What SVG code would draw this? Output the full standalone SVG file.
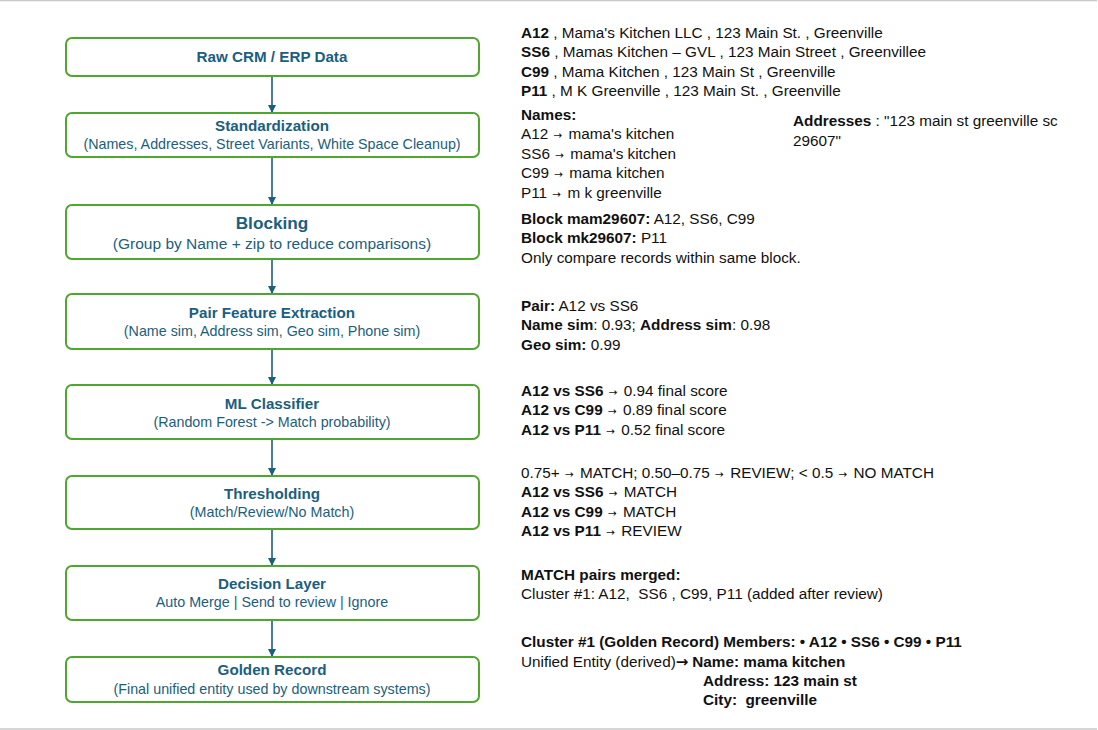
<svg xmlns="http://www.w3.org/2000/svg" width="1098" height="730" viewBox="0 0 1098 730">
<style>
.box{fill:#fff;stroke:#4EA72E;stroke-width:2}
.t{font-family:"Liberation Sans",Arial,sans-serif;fill:#1B5E80;text-anchor:middle}
.h{font-weight:bold;font-size:15.2px}
.s{font-size:14.3px}
.r{font-family:"Liberation Sans",Arial,sans-serif;font-size:15.3px;fill:#111}
.b{font-weight:bold}
.a{font-family:"DejaVu Sans",sans-serif;font-size:10.5px;font-weight:normal}
.ar{font-family:"DejaVu Sans",sans-serif;font-weight:bold;font-size:15px}
.conn line{stroke:#1B5E80;stroke-width:1.6}
</style>
<defs>
<marker id="ah" markerWidth="8" markerHeight="8" refX="7" refY="4" orient="auto" markerUnits="userSpaceOnUse">
<path d="M0,0 L8,4 L0,8 z" fill="#1B5E80"/>
</marker>
</defs>
<rect width="1098" height="730" fill="#fff"/>
<line x1="0" y1="0.5" x2="1097" y2="0.5" stroke="#C8C8C8" stroke-width="1.5"/>
<line x1="0" y1="729" x2="1097" y2="729" stroke="#C8C8C8" stroke-width="1.5"/>

<g class="conn">
<line x1="272" y1="76" x2="272" y2="112" marker-end="url(#ah)"/>
<line x1="272" y1="157" x2="272" y2="204" marker-end="url(#ah)"/>
<line x1="272" y1="259" x2="272" y2="293" marker-end="url(#ah)"/>
<line x1="272" y1="349" x2="272" y2="384" marker-end="url(#ah)"/>
<line x1="272" y1="439" x2="272" y2="475" marker-end="url(#ah)"/>
<line x1="272" y1="529" x2="272" y2="565" marker-end="url(#ah)"/>
<line x1="272" y1="620" x2="272" y2="656" marker-end="url(#ah)"/>
</g>

<g id="n1"><rect class="box" x="66" y="38" width="413" height="38" rx="6"/>
<text class="t h" x="272" y="62">Raw CRM / ERP Data</text></g>
<g id="n2"><rect class="box" x="66" y="113" width="413" height="44" rx="6"/>
<text class="t h" x="272" y="131">Standardization</text>
<text class="t s" x="272" y="149">(Names, Addresses, Street Variants, White Space Cleanup)</text></g>
<g id="n3"><rect class="box" x="66" y="205" width="413" height="54" rx="6"/>
<text class="t b" x="272" y="229" font-size="17.2">Blocking</text>
<text class="t" x="272" y="249" font-size="15.5">(Group by Name + zip to reduce comparisons)</text></g>
<g id="n4"><rect class="box" x="66" y="294" width="413" height="55" rx="6"/>
<text class="t h" x="272" y="318">Pair Feature Extraction</text>
<text class="t s" x="272" y="336">(Name sim, Address sim, Geo sim, Phone sim)</text></g>
<g id="n5"><rect class="box" x="66" y="385" width="413" height="54" rx="6"/>
<text class="t h" x="272" y="409">ML Classifier</text>
<text class="t s" x="272" y="427">(Random Forest -&gt; Match probability)</text></g>
<g id="n6"><rect class="box" x="66" y="476" width="413" height="53" rx="6"/>
<text class="t h" x="272" y="499">Thresholding</text>
<text class="t s" x="272" y="517">(Match/Review/No Match)</text></g>
<g id="n7"><rect class="box" x="66" y="566" width="413" height="54" rx="6"/>
<text class="t h" x="272" y="589">Decision Layer</text>
<text class="t s" x="272" y="607">Auto Merge | Send to review | Ignore</text></g>
<g id="n8"><rect class="box" x="66" y="657" width="413" height="45" rx="6"/>
<text class="t h" x="272" y="675">Golden Record</text>
<text class="t s" x="272" y="694">(Final unified entity used by downstream systems)</text></g>

<g id="notes">
<text class="r" x="521" y="38"><tspan class="b">A12</tspan> , Mama's Kitchen LLC , 123 Main St. , Greenville</text>
<text class="r" x="521" y="57"><tspan class="b">SS6</tspan> , Mamas Kitchen – GVL , 123 Main Street , Greenvillee</text>
<text class="r" x="521" y="77"><tspan class="b">C99</tspan> , Mama Kitchen , 123 Main St , Greenville</text>
<text class="r" x="521" y="96"><tspan class="b">P11</tspan> , M K Greenville , 123 Main St. , Greenville</text>
<text class="r b" x="521" y="120">Names:</text>
<text class="r" x="521" y="139">A12 <tspan class="a" dx="1">→</tspan><tspan dx="2"> mama's kitchen</tspan></text>
<text class="r" x="521" y="159">SS6 <tspan class="a" dx="1">→</tspan><tspan dx="2"> mama's kitchen</tspan></text>
<text class="r" x="521" y="178">C99 <tspan class="a" dx="1">→</tspan><tspan dx="2"> mama kitchen</tspan></text>
<text class="r" x="521" y="198">P11 <tspan class="a" dx="1">→</tspan><tspan dx="2"> m k greenville</tspan></text>
<text class="r" x="793" y="126"><tspan class="b">Addresses</tspan> : "123 main st greenville sc</text>
<text class="r" x="793" y="146">29607"</text>
<text class="r" x="521" y="224"><tspan class="b">Block mam29607:</tspan> A12, SS6, C99</text>
<text class="r" x="521" y="243"><tspan class="b">Block mk29607:</tspan> P11</text>
<text class="r" x="521" y="263">Only compare records within same block.</text>
<text class="r" x="521" y="311"><tspan class="b">Pair:</tspan> A12 vs SS6</text>
<text class="r" x="521" y="330"><tspan class="b">Name sim</tspan>: 0.93; <tspan class="b">Address sim</tspan>: 0.98</text>
<text class="r" x="521" y="350"><tspan class="b">Geo sim:</tspan> 0.99</text>
<text class="r" x="521" y="396"><tspan class="b">A12 vs SS6</tspan> <tspan class="a" dx="1">→</tspan><tspan dx="2"> 0.94 final score</tspan></text>
<text class="r" x="521" y="415"><tspan class="b">A12 vs C99</tspan> <tspan class="a" dx="1">→</tspan><tspan dx="2"> 0.89 final score</tspan></text>
<text class="r" x="521" y="435"><tspan class="b">A12 vs P11</tspan> <tspan class="a" dx="1">→</tspan><tspan dx="2"> 0.52 final score</tspan></text>
<text class="r" x="521" y="478">0.75+ <tspan class="a" dx="1">→</tspan><tspan dx="2"> MATCH; 0.50–0.75 </tspan><tspan class="a" dx="1">→</tspan><tspan dx="2"> REVIEW; &lt; 0.5 </tspan><tspan class="a" dx="1">→</tspan><tspan dx="2"> NO MATCH</tspan></text>
<text class="r" x="521" y="497"><tspan class="b">A12 vs SS6</tspan> <tspan class="a" dx="1">→</tspan><tspan dx="2"> MATCH</tspan></text>
<text class="r" x="521" y="517"><tspan class="b">A12 vs C99</tspan> <tspan class="a" dx="1">→</tspan><tspan dx="2"> MATCH</tspan></text>
<text class="r" x="521" y="536"><tspan class="b">A12 vs P11</tspan> <tspan class="a" dx="1">→</tspan><tspan dx="2"> REVIEW</tspan></text>
<text class="r b" x="521" y="580">MATCH pairs merged:</text>
<text class="r" x="521" y="599" xml:space="preserve">Cluster #1: A12,  SS6 , C99, P11 (added after review)</text>
<text class="r b" x="521" y="647">Cluster #1 (Golden Record) Members: • A12 • SS6 • C99 • P11</text>
<text class="r" x="521" y="667">Unified Entity (derived)<tspan class="ar">→</tspan><tspan class="b" dx="4">Name: mama kitchen</tspan></text>
<text class="r b" x="703" y="686">Address: 123 main st</text>
<text class="r b" x="703" y="705" xml:space="preserve">City:  greenville</text>
</g>
</svg>
